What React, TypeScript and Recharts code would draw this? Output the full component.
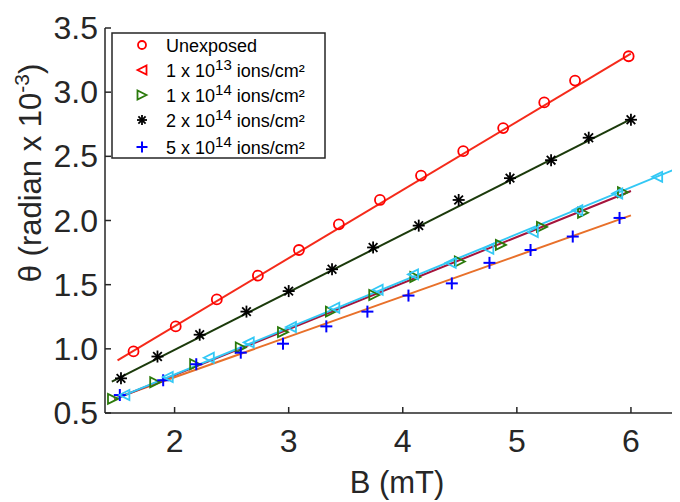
import React from 'react';
import { ComposedChart, Scatter, Line, XAxis, YAxis } from 'recharts';

// field B (mT) and rotation theta (radian x 1e-3)
const bUnexposed = [1.64, 2.01, 2.37, 2.73, 3.09, 3.44, 3.8, 4.16, 4.53, 4.88, 5.24, 5.51, 5.98];
const thUnexposed = [0.98, 1.175, 1.385, 1.57, 1.77, 1.97, 2.16, 2.35, 2.54, 2.72, 2.92, 3.09, 3.28];

const b1e13 = [1.56, 1.94, 2.3, 2.65, 3.02, 3.4, 3.78, 4.09, 4.42, 4.75, 5.14, 5.53, 5.88, 6.23];
const th1e13 = [0.64, 0.78, 0.93, 1.05, 1.17, 1.32, 1.46, 1.58, 1.67, 1.78, 1.91, 2.08, 2.21, 2.34];

const b1e14 = [1.46, 1.83, 2.18, 2.58, 2.95, 3.37, 3.75, 4.11, 4.5, 4.86, 5.22, 5.58, 5.93];
const th1e14 = [0.61, 0.74, 0.88, 1.01, 1.13, 1.29, 1.42, 1.56, 1.68, 1.81, 1.95, 2.06, 2.22];

const b2e14 = [1.53, 1.85, 2.22, 2.63, 3.0, 3.38, 3.74, 4.14, 4.49, 4.94, 5.3, 5.63, 6.0];
const th2e14 = [0.77, 0.94, 1.11, 1.29, 1.45, 1.62, 1.79, 1.96, 2.16, 2.33, 2.47, 2.645, 2.785];

const b5e14 = [1.52, 1.9, 2.19, 2.58, 2.95, 3.33, 3.69, 4.05, 4.43, 4.76, 5.12, 5.49, 5.9];
const th5e14 = [0.64, 0.755, 0.88, 0.97, 1.04, 1.175, 1.29, 1.415, 1.51, 1.67, 1.77, 1.875, 2.02];

// linear fits: [start, end]
const fitUnexposedB = [1.5, 6.0];
const fitUnexposedTh = [0.91, 3.3];
const fit2e14B = [1.45, 6.0];
const fit2e14Th = [0.745, 2.79];
const fit1e13B = [1.48, 6.43];
const fit1e13Th = [0.61, 2.415];
const fit1e14B = [1.47, 6.0];
const fit1e14Th = [0.605, 2.23];
const fit5e14B = [1.48, 6.0];
const fit5e14Th = [0.615, 2.04];

const xTicks = [2, 3, 4, 5, 6];
const yTicks = [0.5, 1.0, 1.5, 2.0, 2.5, 3.0, 3.5];

const legendRows = [
  { id: 'circle', pre: 'Unexposed', sup: '', post: '' },
  { id: 'left', pre: '1 x 10', sup: '13', post: ' ions/cm²' },
  { id: 'right', pre: '1 x 10', sup: '14', post: ' ions/cm²' },
  { id: 'star', pre: '2 x 10', sup: '14', post: ' ions/cm²' },
  { id: 'plus', pre: '5 x 10', sup: '14', post: ' ions/cm²' },
];

const zip = (xs: number[], ys: number[]) => xs.map((x, i) => ({ x, y: ys[i] }));

const FONT = '"Liberation Sans", Arial, Helvetica, sans-serif';
const INK = '#262626';
const RED = '#ff0000';
const GREEN = '#2b7a0b';
const CYAN = '#33c8f5';
const BLUE = '#0000ff';

const circleMark = (cx: number, cy: number, r = 5, color = RED) => (
  <circle cx={cx} cy={cy} r={r} fill="none" stroke={color} strokeWidth={1.8} />
);
const leftTri = (cx: number, cy: number, s = 5, color = CYAN) => (
  <polygon points={`${cx - s},${cy} ${cx + s},${cy - s} ${cx + s},${cy + s}`} fill="none" stroke={color} strokeWidth={1.8} />
);
const rightTri = (cx: number, cy: number, s = 5, color = GREEN) => (
  <polygon points={`${cx + s},${cy} ${cx - s},${cy - s} ${cx - s},${cy + s}`} fill="none" stroke={color} strokeWidth={1.8} />
);
const starMark = (cx: number, cy: number, s = 6) => {
  const d = s * 0.72;
  return (
    <g stroke="#000" strokeWidth={1.8}>
      <line x1={cx - s} y1={cy} x2={cx + s} y2={cy} />
      <line x1={cx} y1={cy - s} x2={cx} y2={cy + s} />
      <line x1={cx - d} y1={cy - d} x2={cx + d} y2={cy + d} />
      <line x1={cx - d} y1={cy + d} x2={cx + d} y2={cy - d} />
    </g>
  );
};
const plusMark = (cx: number, cy: number, s = 6) => (
  <g stroke={BLUE} strokeWidth={2}>
    <line x1={cx - s} y1={cy} x2={cx + s} y2={cy} />
    <line x1={cx} y1={cy - s} x2={cx} y2={cy + s} />
  </g>
);

const YTick = (p: any) => (
  <g>
    <line x1={p.x} x2={p.x + 6} y1={p.y} y2={p.y} stroke={INK} strokeWidth={1.5} />
    <text x={p.x - 7} y={p.y + 11} textAnchor="end" fontSize={32} fill={INK} fontFamily={FONT}>
      {Number(p.payload.value).toFixed(1)}
    </text>
  </g>
);

const XTick = (p: any) => (
  <g>
    <line x1={p.x} x2={p.x} y1={p.y} y2={p.y - 6} stroke={INK} strokeWidth={1.5} />
    <text x={p.x} y={p.y + 39} textAnchor="middle" fontSize={32} fill={INK} fontFamily={FONT}>
      {p.payload.value}
    </text>
  </g>
);

const TopTick = (p: any) => (
  <line x1={p.x} x2={p.x} y1={p.y} y2={p.y + 6} stroke={INK} strokeWidth={1.5} />
);

const legendMarker = (id: string, cx: number, cy: number) => {
  if (id === 'circle') return circleMark(cx, cy, 4);
  if (id === 'left') return leftTri(cx, cy, 4.5, RED);
  if (id === 'right') return rightTri(cx, cy, 4.5, GREEN);
  if (id === 'star') return starMark(cx, cy, 5);
  return plusMark(cx, cy, 5.5);
};

const W = 672;
const H = 494;

export default function App() {
  return (
    <div style={{ position: 'relative', width: W, height: H }}>
      <ComposedChart width={W} height={H} margin={{ top: 20, right: 0, bottom: 0, left: 0 }}>
        <XAxis
          dataKey="x"
          type="number"
          domain={[1.39, 6.43]}
          allowDataOverflow
          ticks={xTicks}
          height={89}
          tickSize={0}
          tickMargin={0}
          tickLine={false}
          tick={XTick}
          axisLine={{ stroke: INK, strokeWidth: 1.5 }}
        />
        <XAxis
          xAxisId="top"
          orientation="top"
          dataKey="x"
          type="number"
          domain={[1.39, 6.43]}
          allowDataOverflow
          ticks={xTicks}
          height={0}
          tickSize={0}
          tickMargin={0}
          tickLine={false}
          tick={TopTick}
          axisLine={{ stroke: INK, strokeWidth: 1.5 }}
        />
        <YAxis
          dataKey="y"
          type="number"
          domain={[0.5, 3.5]}
          allowDataOverflow
          ticks={yTicks}
          width={97}
          tickSize={0}
          tickMargin={0}
          tickLine={false}
          tick={YTick}
          axisLine={{ stroke: INK, strokeWidth: 1.5 }}
        />

        <Scatter data={zip(bUnexposed, thUnexposed)} isAnimationActive={false}
          shape={(p: any) => circleMark(p.cx, p.cy)} />
        <Scatter data={zip(b2e14, th2e14)} isAnimationActive={false}
          shape={(p: any) => starMark(p.cx, p.cy)} />
        <Scatter data={zip(b1e14, th1e14)} isAnimationActive={false}
          shape={(p: any) => rightTri(p.cx, p.cy)} />
        <Scatter data={zip(b5e14, th5e14)} isAnimationActive={false}
          shape={(p: any) => plusMark(p.cx, p.cy)} />

        <Line data={zip(fitUnexposedB, fitUnexposedTh)} dataKey="y" type="linear" stroke="#f52a1a"
          strokeWidth={2} dot={false} isAnimationActive={false} />
        <Line data={zip(fit2e14B, fit2e14Th)} dataKey="y" type="linear" stroke="#1b3a0b"
          strokeWidth={2} dot={false} isAnimationActive={false} />
        <Line data={zip(fit5e14B, fit5e14Th)} dataKey="y" type="linear" stroke="#e8702a"
          strokeWidth={2} dot={false} isAnimationActive={false} />
        <Line data={zip(fit1e14B, fit1e14Th)} dataKey="y" type="linear" stroke="#a5143c"
          strokeWidth={2} dot={false} isAnimationActive={false} />
        <Line data={zip(fit1e13B, fit1e13Th)} dataKey="y" type="linear" stroke={CYAN}
          strokeWidth={2} dot={false} isAnimationActive={false} />

        <Scatter data={zip(b1e13, th1e13)} isAnimationActive={false}
          shape={(p: any) => leftTri(p.cx, p.cy)} />
      </ComposedChart>

      <svg width={W} height={H} style={{ position: 'absolute', left: 0, top: 0, pointerEvents: 'none' }}>
        <text transform="translate(33,165) rotate(-90)" textAnchor="middle" fontSize={31} fill={INK} fontFamily={FONT}>
          <tspan>θ (radian x 10</tspan>
          <tspan dy={-12} fontSize={21}>-3</tspan>
          <tspan dy={12} fontSize={31}>)</tspan>
        </text>
        <text x={389} y={485} textAnchor="middle" fontSize={31} fill={INK} fontFamily={FONT}>
          B (mT)
        </text>

        <rect x={104} y={25} width={213} height={125} fill="#fff" stroke={INK} strokeWidth={1.5} />
        {legendRows.map((row, i) => {
          const cy = [37, 62, 87, 112, 139][i];
          return (
            <g key={row.id}>
              {legendMarker(row.id, 134, cy)}
              <text x={158} y={cy + 6.5} fontSize={18} fill="#000" fontFamily={FONT} style={{ whiteSpace: 'pre' }}>
                <tspan>{row.pre}</tspan>
                {row.sup && <tspan dy={-7} fontSize={15}>{row.sup}</tspan>}
                {row.post && <tspan dy={7} fontSize={18}>{row.post}</tspan>}
              </text>
            </g>
          );
        })}
      </svg>
    </div>
  );
}
